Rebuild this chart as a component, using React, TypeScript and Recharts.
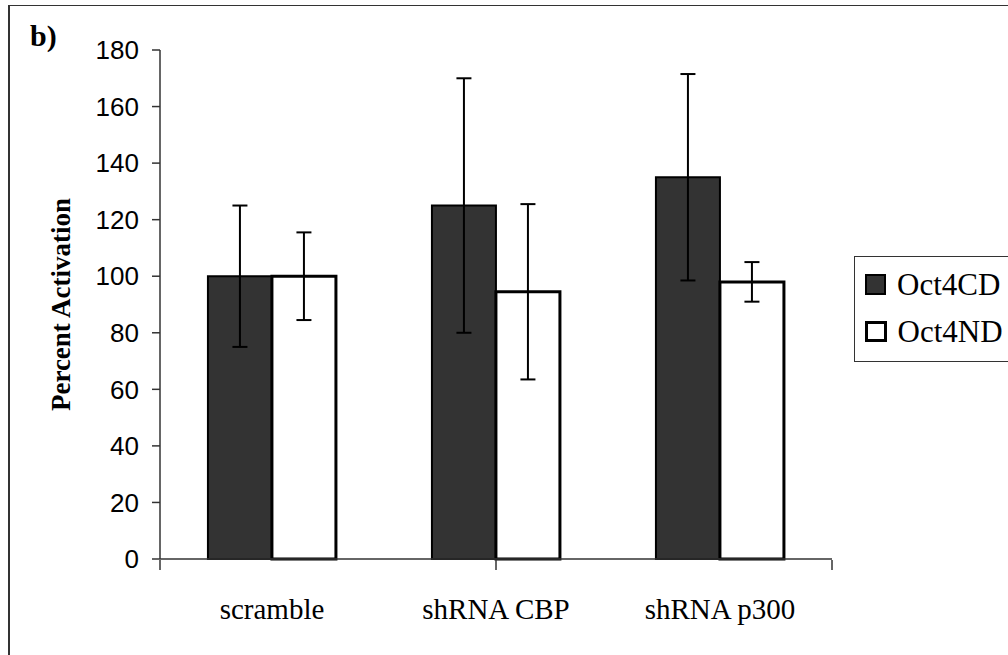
import React from "react";
import { BarChart, Bar, XAxis, YAxis, ErrorBar, Legend, Label } from "recharts";

const categories = ["scramble", "shRNA CBP", "shRNA p300"];
const oct4CD = [100, 125, 135];
const oct4CDErr = [25, 45, 36.5];
const oct4ND = [100, 94.5, 98];
const oct4NDErr = [15.5, 31, 7];
const yTicks = [0, 20, 40, 60, 80, 100, 120, 140, 160, 180];
const edgeTicks = [0, 1, 2, 3];

const SERIF = "'Liberation Serif', 'Times New Roman', serif";
const SANS = "'Liberation Sans', Arial, sans-serif";

const data = categories.map((name, i) => ({
  name,
  cd: oct4CD[i],
  cdErr: oct4CDErr[i],
  nd: oct4ND[i],
  ndErr: oct4NDErr[i],
}));

const legendItems = [
  { label: "Oct4CD", fill: "#333333", stroke: "#000", sw: 2 },
  { label: "Oct4ND", fill: "#ffffff", stroke: "#000", sw: 3.5 },
];

function LegendBox() {
  return (
    <div
      style={{
        border: "1.5px solid #333",
        background: "#fff",
        padding: "4px 0 6px 10px",
        width: 200,
        fontFamily: SERIF,
        fontSize: 31,
        color: "#000",
      }}
    >
      {legendItems.map((it) => (
        <div key={it.label} style={{ display: "flex", alignItems: "center", height: 47 }}>
          <span
            style={{
              display: "inline-block",
              width: 19 - it.sw,
              height: 19 - it.sw,
              background: it.fill,
              border: `${it.sw}px solid ${it.stroke}`,
              marginRight: 11,
            }}
          />
          <span>{it.label}</span>
        </div>
      ))}
    </div>
  );
}

export default function App() {
  return (
    <div
      style={{
        position: "fixed",
        left: 0,
        top: 0,
        width: 1008,
        height: 655,
        overflow: "hidden",
        background: "#fff",
      }}
    >
      <div
        style={{
          position: "absolute",
          left: 8,
          top: 5,
          width: 1100,
          height: 800,
          borderLeft: "2px solid #333",
          borderTop: "1.5px solid #333",
        }}
      />
      <div
        style={{
          position: "absolute",
          left: 30,
          top: 19,
          fontFamily: SERIF,
          fontWeight: "bold",
          fontSize: 30,
          color: "#000",
        }}
      >
        b)
      </div>
      <BarChart
        width={1008}
        height={655}
        data={data}
        margin={{ top: 50, right: 176, bottom: 94, left: 100 }}
        barCategoryGap="21.4%"
        barGap={0}
        style={{ position: "absolute", left: 0, top: 0 }}
      >
        <XAxis
          dataKey="name"
          height={1}
          tickLine={false}
          axisLine={{ stroke: "#333", strokeWidth: 1.5 }}
          tickSize={0}
          tickMargin={39}
          tick={{ fill: "#000", fontFamily: SERIF, fontSize: 29 }}
        />
        <XAxis
          xAxisId="edges"
          type="number"
          domain={[0, 3]}
          ticks={edgeTicks}
          height={1}
          axisLine={false}
          tickSize={10}
          tickLine={{ stroke: "#333", strokeWidth: 1.5 }}
          tickFormatter={() => ""}
        />
        <YAxis
          width={60}
          domain={[0, 180]}
          ticks={yTicks}
          interval={0}
          tickSize={8}
          tickMargin={13}
          axisLine={{ stroke: "#333", strokeWidth: 1.5 }}
          tickLine={{ stroke: "#333", strokeWidth: 1.5 }}
          tick={{ fill: "#000", fontFamily: SANS, fontSize: 26 }}
        >
          <Label
            value="Percent Activation"
            angle={-90}
            position="center"
            dx={-70}
            style={{ fontFamily: SERIF, fontWeight: "bold", fontSize: 27, fill: "#000" }}
          />
        </YAxis>
        <Legend
          layout="vertical"
          align="center"
          verticalAlign="middle"
          content={() => <LegendBox />}
          wrapperStyle={{ position: "absolute", left: 854, top: 256, width: 220 }}
        />
        <Bar dataKey="cd" name="Oct4CD" fill="#333333" stroke="#000" strokeWidth={2} isAnimationActive={false}>
          <ErrorBar dataKey="cdErr" width={7.5} stroke="#000" strokeWidth={2} isAnimationActive={false} />
        </Bar>
        <Bar dataKey="nd" name="Oct4ND" fill="#ffffff" stroke="#000" strokeWidth={3} isAnimationActive={false}>
          <ErrorBar dataKey="ndErr" width={7.5} stroke="#000" strokeWidth={2} isAnimationActive={false} />
        </Bar>
      </BarChart>
    </div>
  );
}
